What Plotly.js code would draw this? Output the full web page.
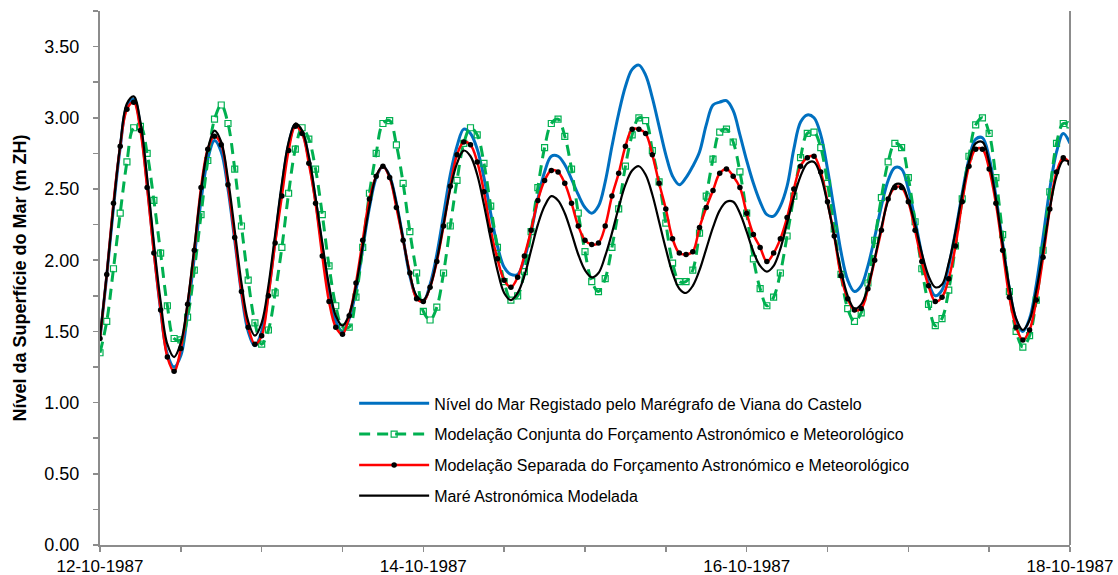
<!DOCTYPE html>
<html>
<head>
<meta charset="utf-8">
<script src="https://cdn.plot.ly/plotly-3.0.1.min.js"></script>
<style>
html,body{margin:0;padding:0;background:#fff;}
#chart{width:1118px;height:575px;}
</style>
</head>
<body>
<div id="chart"></div>
<script>
// Hourly series from 12-10-1987 00:00 to 18-10-1987 00:00 (145 samples)
const startDate = [1987, 10, 12];
const hoursCount = 145;

const seriesNames = [
  "Nível do Mar Registado pelo Marégrafo de Viana do Castelo",
  "Modelação Conjunta do Forçamento Astronómico e Meteorológico",
  "Modelação Separada do Forçamento Astronómico e Meteorológico",
  "Maré Astronómica Modelada"
];

const observed = [
1.45,1.89,2.37,2.79,3.08,3.13,2.94,2.54,2.07,1.65,1.34,1.25,1.33,1.63,2.02,2.42,2.71,2.84,2.76,2.50,
2.14,1.77,1.50,1.40,1.50,1.77,2.14,2.51,2.81,2.95,2.90,2.71,2.42,2.09,1.79,1.57,1.50,1.59,1.79,2.08,
2.37,2.58,2.66,2.59,2.40,2.15,1.89,1.74,1.71,1.83,2.04,2.32,2.60,2.80,2.92,2.89,2.78,2.58,2.33,2.10,
1.95,1.90,1.90,2.01,2.20,2.43,2.62,2.73,2.73,2.67,2.57,2.46,2.37,2.33,2.38,2.55,2.80,3.03,3.22,3.34,
3.37,3.30,3.14,2.94,2.74,2.59,2.53,2.58,2.66,2.76,2.95,3.09,3.11,3.12,3.05,2.88,2.70,2.54,2.41,2.32,
2.31,2.38,2.52,2.78,2.97,3.02,3.00,2.88,2.64,2.35,2.06,1.86,1.78,1.82,1.96,2.16,2.38,2.56,2.65,2.64,
2.50,2.28,2.04,1.84,1.75,1.79,1.96,2.20,2.47,2.71,2.85,2.86,2.72,2.45,2.12,1.80,1.58,1.50,1.59,1.83,
2.16,2.50,2.76,2.89,2.82
];

const jointModel = [
1.35,1.57,1.94,2.33,2.69,2.93,2.94,2.75,2.42,2.05,1.68,1.45,1.44,1.60,1.93,2.32,2.70,2.99,3.09,2.96,
2.64,2.24,1.86,1.56,1.41,1.51,1.77,2.09,2.47,2.78,2.93,2.85,2.64,2.32,1.96,1.68,1.53,1.53,1.74,2.09,
2.47,2.75,2.96,2.98,2.81,2.54,2.20,1.91,1.64,1.58,1.67,1.91,2.24,2.56,2.82,2.93,2.88,2.68,2.38,2.09,
1.85,1.72,1.75,1.92,2.20,2.51,2.79,2.96,2.99,2.87,2.64,2.33,2.06,1.85,1.78,1.87,2.09,2.36,2.66,2.88,
3.00,2.98,2.77,2.55,2.26,1.98,1.85,1.85,1.93,2.19,2.45,2.71,2.90,2.92,2.83,2.62,2.33,2.01,1.80,1.68,
1.74,1.91,2.17,2.45,2.72,2.89,2.90,2.79,2.54,2.22,1.90,1.66,1.57,1.63,1.84,2.14,2.44,2.69,2.82,2.79,
2.58,2.27,1.94,1.69,1.54,1.59,1.79,2.10,2.43,2.73,2.95,3.00,2.89,2.58,2.18,1.78,1.50,1.39,1.47,1.72,
2.07,2.48,2.82,2.96,2.95
];

const separateModel = [
1.45,1.90,2.40,2.80,3.06,3.11,2.91,2.51,2.05,1.65,1.32,1.22,1.38,1.69,2.07,2.51,2.78,2.87,2.81,2.53,
2.16,1.78,1.53,1.41,1.47,1.75,2.12,2.45,2.77,2.94,2.89,2.68,2.40,2.03,1.71,1.53,1.48,1.61,1.84,2.14,
2.43,2.59,2.66,2.58,2.37,2.14,1.91,1.73,1.71,1.81,1.99,2.24,2.52,2.74,2.83,2.81,2.69,2.48,2.21,2.01,
1.86,1.81,1.88,2.03,2.21,2.42,2.56,2.63,2.62,2.54,2.40,2.24,2.14,2.11,2.12,2.24,2.45,2.61,2.80,2.92,
2.92,2.89,2.74,2.54,2.36,2.15,2.05,2.04,2.06,2.23,2.37,2.49,2.61,2.64,2.59,2.51,2.33,2.18,2.09,1.99,
2.05,2.15,2.30,2.50,2.66,2.72,2.73,2.62,2.41,2.17,1.89,1.73,1.65,1.66,1.80,2.00,2.21,2.43,2.51,2.51,
2.41,2.21,1.99,1.82,1.71,1.74,1.87,2.10,2.41,2.66,2.78,2.78,2.64,2.40,2.07,1.74,1.53,1.44,1.51,1.72,
2.02,2.36,2.62,2.72,2.68
];

const astronomical = [
1.46,1.90,2.38,2.81,3.10,3.15,2.97,2.58,2.12,1.71,1.41,1.32,1.42,1.70,2.09,2.49,2.78,2.91,2.83,2.57,
2.21,1.84,1.57,1.47,1.56,1.82,2.18,2.54,2.83,2.96,2.91,2.73,2.44,2.12,1.82,1.61,1.54,1.62,1.82,2.10,
2.38,2.59,2.66,2.59,2.40,2.15,1.90,1.75,1.72,1.81,2.00,2.25,2.50,2.68,2.77,2.73,2.60,2.39,2.15,1.93,
1.77,1.72,1.77,1.89,2.07,2.25,2.38,2.45,2.42,2.33,2.19,2.04,1.93,1.88,1.91,2.03,2.19,2.37,2.53,2.63,
2.66,2.60,2.46,2.27,2.08,1.91,1.80,1.77,1.82,1.93,2.08,2.23,2.35,2.41,2.41,2.33,2.20,2.06,1.96,1.92,
1.96,2.08,2.26,2.44,2.59,2.68,2.69,2.59,2.40,2.17,1.93,1.75,1.66,1.69,1.81,2.01,2.23,2.42,2.53,2.53,
2.42,2.25,2.05,1.89,1.81,1.83,1.98,2.20,2.46,2.69,2.82,2.83,2.69,2.43,2.11,1.81,1.59,1.51,1.58,1.79,
2.06,2.36,2.59,2.70,2.69
];

const xTickVals = ["1987-10-12", "1987-10-14", "1987-10-16", "1987-10-18"];
const xTickText = ["12-10-1987", "14-10-1987", "16-10-1987", "18-10-1987"];
const yTickVals = [0, 0.5, 1, 1.5, 2, 2.5, 3, 3.5];
const yTickText = ["0.00", "0.50", "1.00", "1.50", "2.00", "2.50", "3.00", "3.50"];

function pad(n){ return (n < 10 ? "0" : "") + n; }
const times = [];
for (let h = 0; h < hoursCount; h++) {
  const d = new Date(Date.UTC(startDate[0], startDate[1] - 1, startDate[2], h));
  times.push(d.getUTCFullYear() + "-" + pad(d.getUTCMonth() + 1) + "-" + pad(d.getUTCDate()) + " " + pad(d.getUTCHours()) + ":00");
}

const FONT = "Liberation Sans, Arial, sans-serif";
const AXIS_COLOR = "#8c8c8c";

const traces = [
  {
    x: times, y: observed, name: seriesNames[0], legendgroup: "a",
    type: "scatter", mode: "lines",
    line: {color: "#0070C0", width: 3, shape: "spline", smoothing: 1}
  },
  {
    x: times, y: jointModel, name: seriesNames[1], legendgroup: "b",
    type: "scatter", mode: "lines+markers",
    line: {color: "#00B050", width: 3, dash: "11px,7px", shape: "spline", smoothing: 1},
    marker: {symbol: "square-open", size: 6, color: "#00B050", line: {width: 1.2, color: "#00B050"}}
  },
  {
    x: times, y: separateModel, name: seriesNames[2], legendgroup: "c",
    type: "scatter", mode: "lines+markers",
    line: {color: "#FF0000", width: 2.5, shape: "spline", smoothing: 1},
    marker: {symbol: "circle", size: 5.5, color: "#000000"}
  },
  {
    x: times, y: astronomical, name: seriesNames[3], legendgroup: "d",
    type: "scatter", mode: "lines",
    line: {color: "#000000", width: 2.2, shape: "spline", smoothing: 1}
  }
];

const layout = {
  width: 1118, height: 575,
  margin: {l: 100, r: 48, t: 11, b: 30},
  paper_bgcolor: "#ffffff", plot_bgcolor: "#ffffff",
  font: {family: FONT, size: 17, color: "#000000"},
  showlegend: true,
  legend: {
    x: 0.262, y: 0.297, xanchor: "left", yanchor: "top",
    bgcolor: "rgba(0,0,0,0)", borderwidth: 0,
    font: {family: FONT, size: 16, color: "#000000"},
    traceorder: "grouped", tracegroupgap: 7, itemwidth: 70
  },
  xaxis: {
    type: "date",
    range: ["1987-10-12 00:00", "1987-10-18 00:00"],
    tickmode: "array", tickvals: xTickVals, ticktext: xTickText,
    ticks: "outside", ticklen: 5, tickwidth: 1.5, tickcolor: AXIS_COLOR,
    showline: true, linecolor: AXIS_COLOR, linewidth: 2,
    showgrid: false, zeroline: false,
    ticklabelstandoff: 0,
    tickfont: {family: FONT, size: 17, color: "#000000"},
    minor: {dtick: 43200000, tick0: "1987-10-12", ticks: "outside", ticklen: 5, tickwidth: 1.5, tickcolor: AXIS_COLOR, showgrid: false}
  },
  yaxis: {
    range: [0, 3.75],
    tickmode: "array", tickvals: yTickVals, ticktext: yTickText,
    ticks: "outside", ticklen: 5, tickwidth: 1.5, tickcolor: AXIS_COLOR,
    showline: true, linecolor: AXIS_COLOR, linewidth: 2,
    showgrid: false, zeroline: false,
    ticklabelstandoff: 10,
    tickfont: {family: FONT, size: 18, color: "#000000"},
    minor: {dtick: 0.25, tick0: 0, ticks: "outside", ticklen: 5, tickwidth: 1.5, tickcolor: AXIS_COLOR, showgrid: false},
    title: {text: "Nível da Superfície do Mar (m ZH)", standoff: 13, font: {family: FONT, size: 18, color: "#000000", weight: "bold"}}
  },
  shapes: [
    {type: "line", xref: "paper", yref: "paper", x0: 1, x1: 1, y0: 0, y1: 1, line: {color: AXIS_COLOR, width: 2}}
  ]
};

Plotly.newPlot("chart", traces, layout, {displayModeBar: false, staticPlot: true});
</script>
</body>
</html>
